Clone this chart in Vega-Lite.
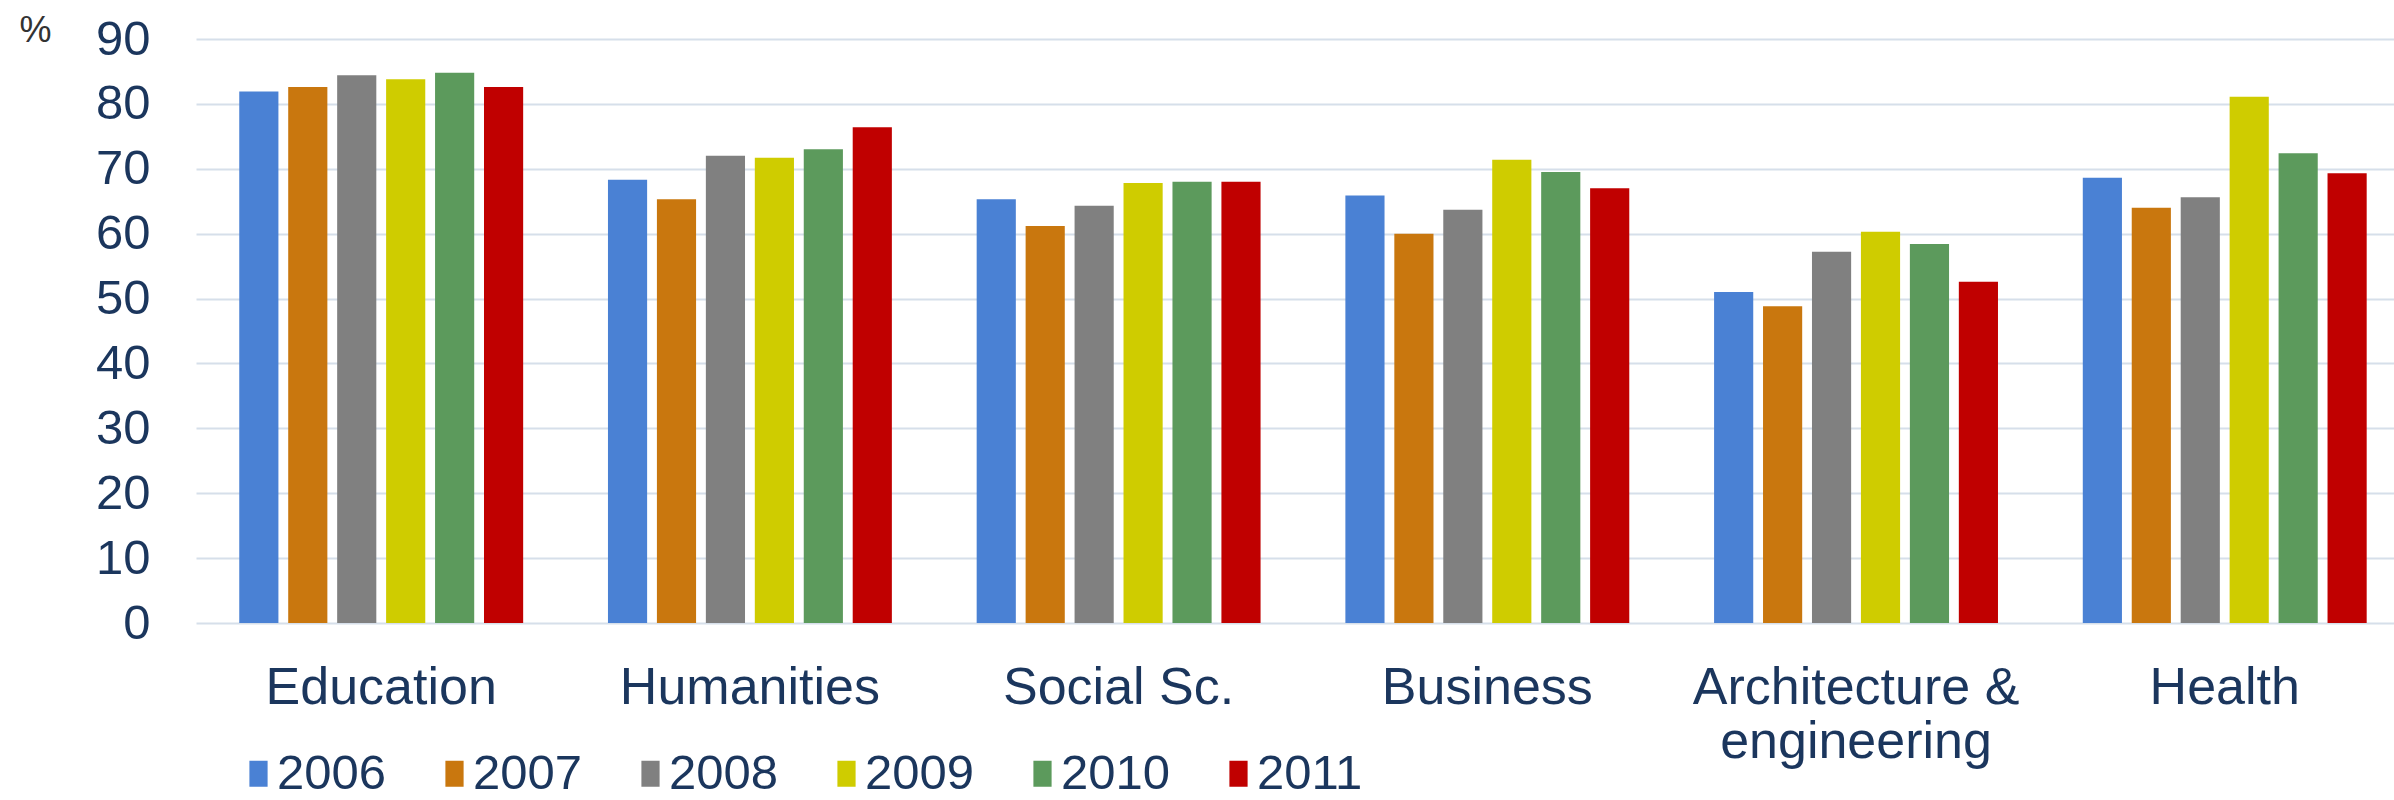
{
  "$schema": "https://vega.github.io/schema/vega-lite/v6.json",
  "autosize": "none",
  "width": 2198,
  "height": 584,
  "padding": {"left": 196, "top": 39, "right": 0, "bottom": 177},
  "background": "white",
  "data": {
    "values": [
      {"field": "Education", "year": "2006", "value": 81.9},
      {"field": "Education", "year": "2007", "value": 82.6},
      {"field": "Education", "year": "2008", "value": 84.4},
      {"field": "Education", "year": "2009", "value": 83.8},
      {"field": "Education", "year": "2010", "value": 84.8},
      {"field": "Education", "year": "2011", "value": 82.6},
      {"field": "Humanities", "year": "2006", "value": 68.3},
      {"field": "Humanities", "year": "2007", "value": 65.3},
      {"field": "Humanities", "year": "2008", "value": 72.0},
      {"field": "Humanities", "year": "2009", "value": 71.7},
      {"field": "Humanities", "year": "2010", "value": 73.0},
      {"field": "Humanities", "year": "2011", "value": 76.4},
      {"field": "Social Sc.", "year": "2006", "value": 65.3},
      {"field": "Social Sc.", "year": "2007", "value": 61.2},
      {"field": "Social Sc.", "year": "2008", "value": 64.3},
      {"field": "Social Sc.", "year": "2009", "value": 67.8},
      {"field": "Social Sc.", "year": "2010", "value": 68.0},
      {"field": "Social Sc.", "year": "2011", "value": 68.0},
      {"field": "Business", "year": "2006", "value": 65.9},
      {"field": "Business", "year": "2007", "value": 60.0},
      {"field": "Business", "year": "2008", "value": 63.7},
      {"field": "Business", "year": "2009", "value": 71.4},
      {"field": "Business", "year": "2010", "value": 69.5},
      {"field": "Business", "year": "2011", "value": 67.0},
      {"field": "Architecture & engineering", "year": "2006", "value": 51.0},
      {"field": "Architecture & engineering", "year": "2007", "value": 48.8},
      {"field": "Architecture & engineering", "year": "2008", "value": 57.2},
      {"field": "Architecture & engineering", "year": "2009", "value": 60.3},
      {"field": "Architecture & engineering", "year": "2010", "value": 58.4},
      {"field": "Architecture & engineering", "year": "2011", "value": 52.6},
      {"field": "Health", "year": "2006", "value": 68.6},
      {"field": "Health", "year": "2007", "value": 64.0},
      {"field": "Health", "year": "2008", "value": 65.6},
      {"field": "Health", "year": "2009", "value": 81.1},
      {"field": "Health", "year": "2010", "value": 72.4},
      {"field": "Health", "year": "2011", "value": 69.3}
    ]
  },
  "mark": {"type": "bar"},
  "encoding": {
    "x": {
      "field": "field",
      "type": "nominal",
      "sort": null,
      "scale": {"paddingInner": 0.23, "paddingOuter": 0.0957, "align": 0.613},
      "axis": {
        "title": null,
        "labelAngle": 0,
        "ticks": false,
        "domain": false,
        "labelPadding": 39,
        "labelFontSize": 52,
        "labelLimit": 0,
        "labelLineHeight": 54,
        "labelColor": "#1B365D",
        "labelFont": "Liberation Sans",
        "labelExpr": "datum.label == 'Architecture & engineering' ? ['Architecture &', 'engineering'] : datum.label"
      }
    },
    "xOffset": {
      "field": "year",
      "type": "nominal",
      "scale": {"paddingInner": 0.2, "paddingOuter": 0}
    },
    "y": {
      "field": "value",
      "type": "quantitative",
      "scale": {"domain": [0, 90], "nice": false},
      "axis": {
        "values": [0, 10, 20, 30, 40, 50, 60, 70, 80, 90],
        "title": "%",
        "titleAngle": 0,
        "titleAlign": "left",
        "titleBaseline": "middle",
        "titleX": -177,
        "titleY": -9,
        "titleFontSize": 36,
        "titleFontWeight": "normal",
        "titleColor": "#333333",
        "titleFont": "Liberation Sans",
        "grid": true,
        "gridColor": "#D6DFEA",
        "gridWidth": 2,
        "domain": false,
        "ticks": false,
        "labelPadding": 46,
        "labelFontSize": 49,
        "labelColor": "#1B365D",
        "labelFont": "Liberation Sans"
      }
    },
    "color": {
      "field": "year",
      "type": "nominal",
      "scale": {
        "domain": ["2006", "2007", "2008", "2009", "2010", "2011"],
        "range": ["#4A81D4", "#C9770E", "#808080", "#CFCC00", "#5C9A5C", "#C00000"]
      },
      "legend": {
        "title": null,
        "orient": "none",
        "legendX": 38,
        "legendY": 710,
        "direction": "horizontal",
        "symbolType": "M-0.7,-1L0.7,-1L0.7,1L-0.7,1Z",
        "symbolSize": 676,
        "symbolStrokeWidth": 0,
        "symbolOpacity": 1,
        "labelFontSize": 49,
        "labelColor": "#1B365D",
        "labelFont": "Liberation Sans",
        "labelOffset": -6,
        "columnPadding": 43,
        "labelLimit": 0
      }
    }
  },
  "config": {
    "view": {"stroke": null},
    "font": "Liberation Sans"
  }
}
